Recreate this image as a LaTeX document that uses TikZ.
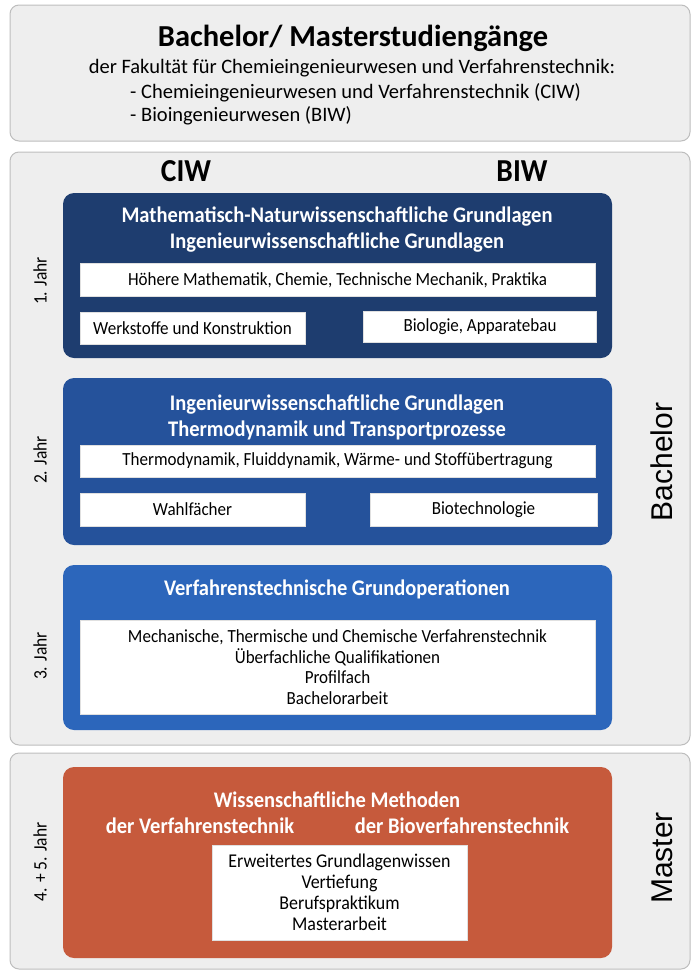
\documentclass[tikz,border=0pt]{standalone}
\usepackage{fontspec}
\setmainfont{Carlito}
\newfontfamily\narrowfont{Carlito}[FakeStretch=0.92]
\newfontfamily\degreefont{Liberation Sans}
\definecolor{panelfill}{HTML}{EEEEEE}
\definecolor{panelline}{HTML}{BDBDBD}
\definecolor{yearone}{HTML}{1E3D6F}
\definecolor{yeartwo}{HTML}{25529B}
\definecolor{yearthree}{HTML}{2C66BB}
\definecolor{masterred}{HTML}{C65A3C}
\begin{document}
\begin{tikzpicture}[x=1pt,y=-1pt,
  panel/.style={draw=panelline,fill=panelfill,line width=1pt,rounded corners=9pt},
  yearbox/.style={rounded corners=11pt,draw=none},
  courses/.style={fill=white,draw=black!12,line width=0.6pt,inner sep=0pt,
    align=center,font=\narrowfont\fontsize{18.5}{20.5}\selectfont},
  blocktitle/.style={text=white,font=\narrowfont\bfseries\fontsize{22.3}{26}\selectfont,align=center},
  yearlabel/.style={rotate=90,font=\narrowfont\fontsize{19}{20}\selectfont},
  degree/.style={rotate=90,font=\degreefont\fontsize{30}{32}\selectfont},
  track/.style={font=\narrowfont\bfseries\fontsize{32}{34}\selectfont}]
\useasboundingbox (0,0) rectangle (696,975);

% outer panels
\node[panel,minimum width=680,minimum height=136,inner sep=0pt] (head) at (350,73) {};
\node[panel,minimum width=680,minimum height=593,inner sep=0pt] (bachelor) at (350,448.5) {};
\node[panel,minimum width=680,minimum height=216,inner sep=0pt] (master) at (350,861) {};

% heading text
\node[font=\bfseries\fontsize{30.5}{32}\selectfont] (title) at (353,38) {Bachelor/ Masterstudiengänge};
\node[font=\fontsize{20.5}{22}\selectfont] (faculty) at (352,68) {der Fakultät für Chemieingenieurwesen und Verfahrenstechnik:};
\node[font=\fontsize{20.5}{22}\selectfont,anchor=west,inner sep=0pt] (ciwline) at (130,93) {- Chemieingenieurwesen und Verfahrenstechnik (CIW)};
\node[font=\fontsize{20.5}{22}\selectfont,anchor=west,inner sep=0pt] (biwline) at (130,116) {- Bioingenieurwesen (BIW)};

% study tracks
\node[track] (ciw) at (186,171) {CIW};
\node[track] (biw) at (522,171) {BIW};

% year 1
\fill[yearone,yearbox] (63,193) rectangle (612,358);
\node[blocktitle] (t1) at (337,230) {Mathematisch-Naturwissenschaftliche Grundlagen\\Ingenieurwissenschaftliche Grundlagen};
\node[courses,minimum width=515,minimum height=33] (c1a) at (337.5,280) {Höhere Mathematik, Chemie, Technische Mechanik, Praktika};
\node[courses,minimum width=225,minimum height=32] (c1b) at (192.5,328) {Werkstoffe und Konstruktion};
\node[courses,minimum width=233,minimum height=31] (c1c) at (480,327) {Biologie, Apparatebau};
\node[yearlabel] (y1) at (40,281) {1. Jahr};

% year 2
\fill[yeartwo,yearbox] (63,378) rectangle (612,545);
\node[blocktitle] (t2) at (337,417) {Ingenieurwissenschaftliche Grundlagen\\Thermodynamik und Transportprozesse};
\node[courses,minimum width=515,minimum height=32] (c2a) at (337.5,461) {Thermodynamik, Fluiddynamik, Wärme- und Stoffübertragung};
\node[courses,minimum width=225,minimum height=33] (c2b) at (192.5,509.5) {Wahlfächer};
\node[courses,minimum width=227,minimum height=33] (c2c) at (483.5,509.5) {Biotechnologie};
\node[yearlabel] (y2) at (40,460) {2. Jahr};

% year 3
\fill[yearthree,yearbox] (63,565) rectangle (612,730);
\node[blocktitle] (t3) at (337,589) {Verfahrenstechnische Grundoperationen};
\node[courses,minimum width=515,minimum height=94] (c3) at (337.5,667)
  {Mechanische, Thermische und Chemische Verfahrenstechnik\\Überfachliche Qualifikationen\\Profilfach\\Bachelorarbeit};
\node[yearlabel] (y3) at (40,656) {3. Jahr};

% master
\fill[masterred,yearbox] (63,767) rectangle (612,958);
\node[blocktitle] (t4) at (337,800) {Wissenschaftliche Methoden};
\node[blocktitle] (t4a) at (200,826) {der Verfahrenstechnik};
\node[blocktitle] (t4b) at (462,826) {der Bioverfahrenstechnik};
\node[courses,minimum width=255,minimum height=95,font=\narrowfont\fontsize{19.5}{21}\selectfont] (c4) at (339.5,892.5)
  {Erweitertes Grundlagenwissen\\Vertiefung\\Berufspraktikum\\Masterarbeit};
\node[yearlabel] (y4) at (40,862) {4. + 5. Jahr};

% degree labels
\node[degree] (lb) at (662,462) {Bachelor};
\node[degree] (lm) at (662,858) {Master};
\end{tikzpicture}
\end{document}
